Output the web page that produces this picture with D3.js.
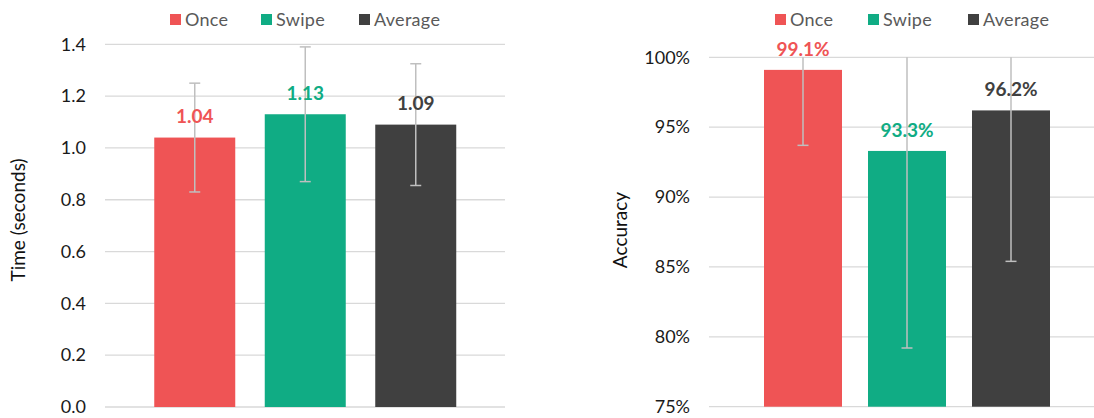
<!DOCTYPE html>
<html>
<head>
<meta charset="utf-8">
<script src="https://cdn.jsdelivr.net/npm/d3@7.9.0/dist/d3.min.js"></script>
<style>
  body { margin: 0; background: #fff; }
  svg { display: block; font-family: Lato, "Open Sans", sans-serif; }
</style>
</head>
<body>
<div id="viz"></div>
<script>
// series + values
const series = ["Once", "Swipe", "Average"];
const timeMean = [1.04, 1.13, 1.09];
const timeErr = [0.21, 0.26, 0.235];
const timeTicks = [0, 0.2, 0.4, 0.6, 0.8, 1.0, 1.2, 1.4];
const accMean = [99.1, 93.3, 96.2];
const accErr = [5.4, 14.1, 10.8];
const accTicks = [75, 80, 85, 90, 95, 100];

const colors = ["#EF5455", "#10AC84", "#404040"];
const width = 1094;
const height = 418;

const svg = d3.select("#viz")
  .append("svg")
  .attr("width", width)
  .attr("height", height);

function drawPanel(opt) {
  const g = svg.append("g");
  const y = d3.scaleLinear().domain(opt.domain).range([opt.y1, opt.y0]);
  const x = d3.scaleBand()
    .domain(series)
    .range(opt.barRange)
    .paddingInner(opt.pad)
    .paddingOuter(opt.pad / 2);

  // gridlines
  g.selectAll(".grid")
    .data(opt.ticks)
    .join("line")
    .attr("x1", opt.x0)
    .attr("x2", opt.x1)
    .attr("y1", d => y(d))
    .attr("y2", d => y(d))
    .attr("stroke", "#D9D9D9")
    .attr("stroke-width", 1.3);

  // tick labels
  g.selectAll(".tick")
    .data(opt.ticks)
    .join("text")
    .attr("x", opt.x0 - 19)
    .attr("y", d => y(d))
    .attr("dy", "0.35em")
    .attr("text-anchor", "end")
    .attr("font-size", "18px")
    .attr("fill", "#1a1a1a")
    .text(opt.fmt);

  // axis title
  g.append("text")
    .attr("transform", `translate(${opt.titleX},${opt.titleY}) rotate(-90)`)
    .attr("text-anchor", "middle")
    .attr("dy", "0.35em")
    .attr("font-size", "19px")
    .attr("fill", "#111")
    .text(opt.title);

  const rows = series.map((s, i) => ({ s, i, v: opt.mean[i], e: opt.err[i] }));

  // bars
  g.selectAll(".bar")
    .data(rows)
    .join("rect")
    .attr("x", d => x(d.s))
    .attr("width", x.bandwidth())
    .attr("y", d => y(d.v))
    .attr("height", d => y(opt.domain[0]) - y(d.v))
    .attr("fill", d => colors[d.i]);

  // error bars, clipped at the top of the axis like excel does
  const top = opt.domain[1];
  const cx = d => x(d.s) + x.bandwidth() / 2;
  g.selectAll(".err")
    .data(rows)
    .join("line")
    .attr("x1", cx).attr("x2", cx)
    .attr("y1", d => y(Math.min(top, d.v + d.e)))
    .attr("y2", d => y(d.v - d.e))
    .attr("stroke", "#BFBFBF")
    .attr("stroke-width", 1.5);

  g.selectAll(".capLo")
    .data(rows)
    .join("line")
    .attr("x1", d => cx(d) - 5.5).attr("x2", d => cx(d) + 5.5)
    .attr("y1", d => y(d.v - d.e)).attr("y2", d => y(d.v - d.e))
    .attr("stroke", "#BFBFBF")
    .attr("stroke-width", 1.5);

  g.selectAll(".capHi")
    .data(rows.filter(d => d.v + d.e <= top))
    .join("line")
    .attr("x1", d => cx(d) - 5.5).attr("x2", d => cx(d) + 5.5)
    .attr("y1", d => y(d.v + d.e)).attr("y2", d => y(d.v + d.e))
    .attr("stroke", "#BFBFBF")
    .attr("stroke-width", 1.5);

  // value labels
  g.selectAll(".lbl")
    .data(rows)
    .join("text")
    .attr("x", cx)
    .attr("y", d => y(d.v) - 21)
    .attr("dy", "0.35em")
    .attr("text-anchor", "middle")
    .attr("font-size", "19px")
    .attr("font-weight", "bold")
    .attr("fill", d => colors[d.i])
    .text(d => opt.lblFmt(d.v));

  // legend
  const leg = g.selectAll(".leg")
    .data(series)
    .join("g")
    .attr("transform", (d, i) => `translate(${opt.legendX[i]},14)`);
  leg.append("rect")
    .attr("width", 11)
    .attr("height", 11)
    .attr("fill", (d, i) => colors[i]);
  leg.append("text")
    .attr("x", 15)
    .attr("y", 6)
    .attr("dy", "0.35em")
    .attr("font-size", "18px")
    .attr("letter-spacing", "0.3px")
    .attr("fill", "#595959")
    .text(d => d);
}

drawPanel({
  domain: [0, 1.4], ticks: timeTicks, mean: timeMean, err: timeErr,
  x0: 105, x1: 505, y0: 44.3, y1: 407,
  barRange: [139.5, 471], pad: 0.267,
  fmt: d3.format(".1f"), lblFmt: d3.format(".2f"),
  title: "Time (seconds)", titleX: 18, titleY: 220,
  legendX: [170, 261, 359]
});

drawPanel({
  domain: [75, 100], ticks: accTicks, mean: accMean, err: accErr,
  x0: 709, x1: 1105, y0: 57.3, y1: 406.7,
  barRange: [751, 1063], pad: 0.25,
  fmt: d => d + "%", lblFmt: d => d3.format(".1f")(d) + "%",
  title: "Accuracy", titleX: 620, titleY: 230,
  legendX: [775, 868, 968]
});
</script>
</body>
</html>
